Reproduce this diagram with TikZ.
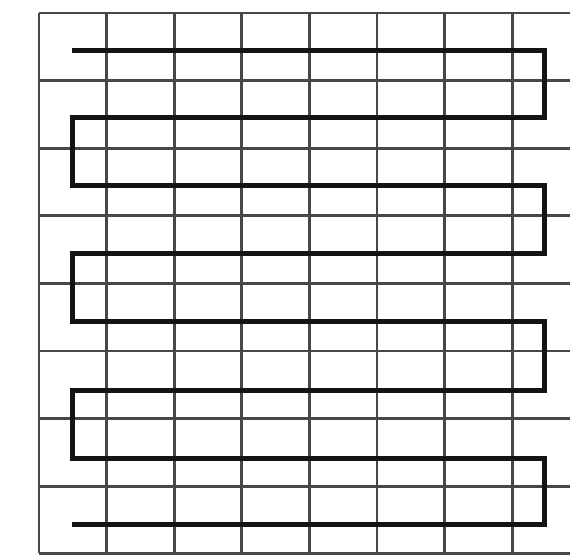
\documentclass[tikz,border=0pt]{standalone}
\begin{document}
\begin{tikzpicture}[x=1pt,y=-1pt,
  gridline/.style={draw=black!72, line width=2.7pt},
  snake/.style={draw=black!92, line width=5pt, line join=miter}]
\useasboundingbox (0,0) rectangle (570,557);
% horizontal grid lines
\foreach \k in {0,...,8}{
  \draw[gridline] (39,{13+67.6*\k}) -- (570,{13+67.6*\k});
}
% vertical grid lines
\foreach \k in {0,...,7}{
  \draw[gridline] ({39+67.6*\k},13) -- ({39+67.6*\k},553);
}
% serpentine path
\draw[snake] (72,50) -- (544,50) -- (544,117) -- (72,117) -- (72,185)
  -- (544,185) -- (544,253) -- (72,253) -- (72,321) -- (544,321)
  -- (544,390) -- (72,390) -- (72,458) -- (544,458) -- (544,524) -- (72,524);
\end{tikzpicture}
\end{document}
